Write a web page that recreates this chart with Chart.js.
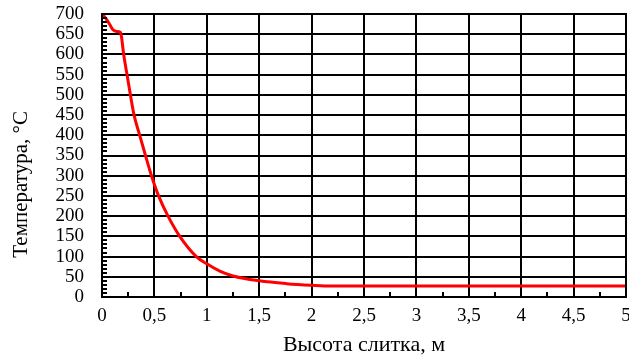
<!DOCTYPE html>
<html>
<head>
<meta charset="utf-8">
<script src="https://cdn.jsdelivr.net/npm/chart.js@4"></script>
<style>
  html, body { margin: 0; padding: 0; background: #fff; }
  #wrap { width: 629px; height: 358px; }
</style>
</head>
<body>
<div id="wrap"><canvas id="tempChart" width="629" height="358"></canvas></div>
<script>
// Data
const heights = [0, 0.04, 0.074, 0.105, 0.14, 0.175, 0.185, 0.207, 0.239, 0.271, 0.306, 0.36, 0.415, 0.472, 0.54, 0.63, 0.742, 0.9, 1.0, 1.124, 1.25, 1.5, 1.76, 2.0, 2.2, 2.5, 3, 3.5, 4, 4.5, 5];
const temps   = [700, 688, 674, 661, 657, 655, 645, 600, 550, 500, 450, 400, 350, 300, 250, 200, 150, 100, 82, 64, 52, 40, 33, 29, 27, 27, 27, 27, 27, 27, 27];

const xMin = 0, xMax = 5, xStep = 0.5, xMinorStep = 0.25;
const yMin = 0, yMax = 700, yStep = 50, yMinorStep = 10;

const xTitle = 'Высота слитка, м';
// trailing spaces push the rotated title down a bit, as in the original
const yTitle = 'Температура, °C' + '\u00a0'.repeat(11);

const fontFamily = '"Liberation Serif", "Times New Roman", serif';

// Minor ticks pointing into the plot, like in the reference
const minorTicks = {
    id: 'minorTicks',
    afterDatasetsDraw(chart) {
        const ctx = chart.ctx;
        const x = chart.scales.x;
        const y = chart.scales.y;
        ctx.save();
        ctx.strokeStyle = '#000';
        ctx.lineWidth = 2;
        ctx.beginPath();
        for (let v = xMin; v <= xMax + 1e-9; v += xMinorStep) {
            const px = Math.round(x.getPixelForValue(v));
            ctx.moveTo(px, y.bottom);
            ctx.lineTo(px, y.bottom - 5);
        }
        for (let v = yMin; v <= yMax + 1e-9; v += yMinorStep) {
            const py = Math.round(y.getPixelForValue(v));
            ctx.moveTo(x.left, py);
            ctx.lineTo(x.left + 5, py);
        }
        ctx.stroke();
        // frame
        ctx.strokeRect(x.left, y.top, x.right - x.left, y.bottom - y.top);
        ctx.restore();
    }
};

new Chart(document.getElementById('tempChart'), {
    type: 'line',
    data: {
        datasets: [{
            data: heights.map((h, i) => ({ x: h, y: temps[i] })),
            borderColor: '#ff0000',
            borderWidth: 3,
            pointRadius: 0,
            cubicInterpolationMode: 'monotone',
            fill: false
        }]
    },
    options: {
        responsive: false,
        animation: false,
        layout: { padding: { top: 14, right: 3, left: 0, bottom: 0 } },
        plugins: {
            legend: { display: false },
            tooltip: { enabled: false }
        },
        scales: {
            x: {
                type: 'linear',
                min: xMin,
                max: xMax,
                ticks: {
                    stepSize: xStep,
                    autoSkip: false,
                    color: '#000',
                    font: { family: fontFamily, size: 19 },
                    padding: 8,
                    maxRotation: 0,
                    callback: v => String(v).replace('.', ',')
                },
                grid: { color: '#000', lineWidth: 2, drawTicks: false },
                border: { color: '#000', width: 2 },
                title: {
                    display: true,
                    text: xTitle,
                    color: '#000',
                    font: { family: fontFamily, size: 22 },
                    padding: { top: 6, bottom: 0 }
                },
                afterFit: s => {
                    s.height = 61;
                    s.paddingLeft = 0;
                    s.paddingRight = 0;
                }
            },
            y: {
                min: yMin,
                max: yMax,
                ticks: {
                    stepSize: yStep,
                    autoSkip: false,
                    color: '#000',
                    font: { family: fontFamily, size: 19 },
                    padding: 18
                },
                grid: { color: '#000', lineWidth: 2, drawTicks: false },
                border: { color: '#000', width: 2 },
                title: {
                    display: true,
                    text: yTitle,
                    color: '#000',
                    font: { family: fontFamily, size: 21 },
                    padding: { top: 9, bottom: 0 }
                },
                afterFit: s => {
                    s.width = 102;
                    s.paddingTop = 0;
                    s.paddingBottom = 0;
                }
            }
        }
    },
    plugins: [minorTicks]
});
</script>
</body>
</html>
